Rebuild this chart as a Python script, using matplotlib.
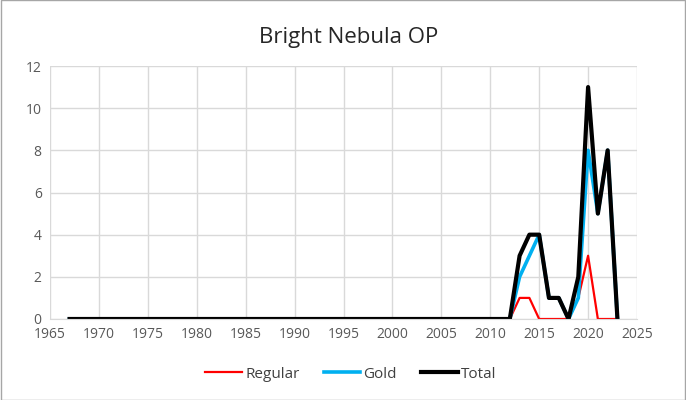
import matplotlib
matplotlib.use("Agg")
import matplotlib.pyplot as plt
import numpy as np

years = list(range(1967, 2024))
regular_nz = {2013: 1, 2014: 1, 2019: 1, 2020: 3}
gold_nz = {2013: 2, 2014: 3, 2015: 4, 2016: 1, 2017: 1, 2019: 1, 2020: 8, 2021: 5, 2022: 8}
total_nz = {2013: 3, 2014: 4, 2015: 4, 2016: 1, 2017: 1, 2019: 2, 2020: 11, 2021: 5, 2022: 8}
regular = [regular_nz.get(y, 0) for y in years]
gold = [gold_nz.get(y, 0) for y in years]
total = [total_nz.get(y, 0) for y in years]

plt.rcParams['font.family'] = ['Open Sans', 'DejaVu Sans']
fig = plt.figure(figsize=(6.86, 4.0), dpi=100)
ax = fig.add_axes([50/686, 1-319/400, (637-50)/686, (319-66)/400])

ax.plot(years, regular, color='#ff0000', lw=1.6, label='Regular')
ax.plot(years, gold, color='#00b0f0', lw=2.6, label='Gold')
ax.plot(years, total, color='#000000', lw=3.0, label='Total')

ax.set_xlim(1965, 2025)
ax.set_ylim(0, 12)
ax.set_xticks(range(1965, 2026, 5))
ax.set_yticks(range(0, 13, 2))
ax.grid(True, color='#d9d9d9', lw=1)
ax.set_axisbelow(True)
for s in ['top', 'right', 'left']:
    ax.spines[s].set_visible(False)
ax.spines['bottom'].set_color('#d9d9d9')
ax.tick_params(length=0, colors='#595959', labelsize=10, pad=6)

fig.text(349/686, 1-38/400, 'Bright Nebula OP', ha='center', va='center', fontsize=16, color='#262626')
leg = fig.legend(loc='center', bbox_to_anchor=(351/686, 1-374/400), ncol=3, frameon=False,
                 fontsize=11, handlelength=2.4, handletextpad=0.2, columnspacing=1.6)
for t in leg.get_texts():
    t.set_color('#404040')

fig.patches.append(plt.Rectangle((0.001, 0.001), 0.998, 0.998, transform=fig.transFigure,
                                 fill=False, edgecolor='#a6a6a6', lw=1))
fig.savefig('out.png', dpi=100)
